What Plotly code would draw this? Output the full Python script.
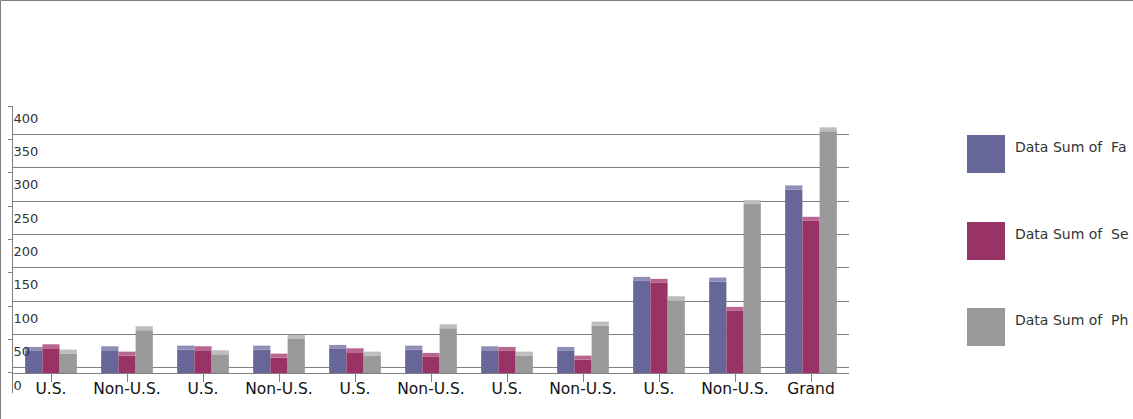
import plotly.graph_objects as go

# ---- data ----
categories = ["U.S.", "Non-U.S.", "U.S.", "Non-U.S.", "U.S.", "Non-U.S.",
              "U.S.", "Non-U.S.", "U.S.", "Non-U.S.", "Grand"]
series_names = ["Data Sum of  Fa", "Data Sum of  Se", "Data Sum of  Ph"]
fa_values = [33, 34, 35, 35, 36, 35, 34, 33, 138, 137, 275]
se_values = [37, 26, 34, 23, 31, 24, 33, 20, 135, 93, 228]
ph_values = [29, 64, 28, 51, 26, 67, 26, 71, 109, 253, 362]
y_ticks = [0, 50, 100, 150, 200, 250, 300, 350, 400]

# ---- style ----
colors = ["#666699", "#993366", "#999999"]
cap_colors = ["#8e8eb6", "#b8668f", "#bdbdbd"]
CAP = 6
W, H = 1133, 419
L, R, T, B = 13, 284, 106, 26
PW, PH = W - L - R, H - T - B
Y_MIN, Y_MAX = -30, 400
ZERO_FRAC = (0 - Y_MIN) / (Y_MAX - Y_MIN)
WALL_SHIFT = -7.5  # back-wall (3D) offset of gridlines, in value units

def px_x(p):
    return (p - L) / PW

def px_y(p):
    return (H - B - p) / PH

x = list(range(len(categories)))
series = [fa_values, se_values, ph_values]

fig = go.Figure()
for i, (name, vals) in enumerate(zip(series_names, series)):
    fig.add_trace(go.Bar(
        x=x, y=vals, name=name, offsetgroup=str(i),
        marker=dict(color=colors[i], line=dict(width=0)),
        showlegend=False, hoverinfo="y+name",
    ))
    fig.add_trace(go.Bar(
        x=x, y=[CAP] * len(vals), base=vals, offsetgroup=str(i),
        marker=dict(color=cap_colors[i], line=dict(width=0)),
        showlegend=False, hoverinfo="skip",
    ))

fig.update_layout(
    width=W, height=H,
    margin=dict(l=L, r=R, t=T, b=B, autoexpand=False),
    paper_bgcolor="white", plot_bgcolor="white",
    barmode="group", bargap=0.32, bargroupgap=0.0,
    font=dict(family="DejaVu Sans", color="#111111"),
    showlegend=False,
)
fig.update_xaxes(
    tickmode="array", tickvals=x, ticktext=categories,
    range=[-0.5, len(categories) - 0.5],
    anchor="free", position=ZERO_FRAC,
    showline=True, linecolor="#808080", linewidth=1,
    ticks="outside", ticklen=8, tickcolor="#808080",
    ticklabelstandoff=-7,
    tickfont=dict(family="DejaVu Sans", size=15.5, color="#111111"),
    showgrid=False, zeroline=False,
)
fig.update_layout(
    yaxis=dict(
        range=[Y_MIN, Y_MAX], tickmode="array", tickvals=y_ticks,
        ticktext=[str(v) for v in y_ticks],
        showgrid=False,
        showline=True, linecolor="#808080", linewidth=1,
        ticks="outside", ticklen=4, tickcolor="#808080",
        ticklabelposition="inside", ticklabelshift=12,
        tickfont=dict(family="DejaVu Sans", size=13, color="#333333"),
        zeroline=False,
    ),
    yaxis2=dict(
        overlaying="y", side="left", anchor="x",
        range=[Y_MIN + WALL_SHIFT, Y_MAX + WALL_SHIFT],
        tickmode="array", tickvals=y_ticks[:-1],
        showgrid=True, gridcolor="#808080", gridwidth=1,
        showticklabels=False, ticks="", showline=False, zeroline=False,
    ),
)
# invisible trace to activate the back-wall grid axis
fig.add_trace(go.Scatter(x=[x[0]], y=[0], yaxis="y2", mode="markers",
                         marker=dict(opacity=0), showlegend=False,
                         hoverinfo="skip"))

# outer frame
fig.add_shape(type="rect", xref="paper", yref="paper",
              x0=px_x(0.5), x1=px_x(W + 50), y0=px_y(H + 50), y1=px_y(0.5),
              line=dict(color="#808080", width=1), fillcolor="rgba(0,0,0,0)",
              layer="below")

# custom legend (large swatches)
leg_top = [135, 222, 308]
for i, name in enumerate(series_names):
    fig.add_shape(type="rect", xref="paper", yref="paper",
                  x0=px_x(967), x1=px_x(1005),
                  y0=px_y(leg_top[i] + 38), y1=px_y(leg_top[i]),
                  line=dict(width=0), fillcolor=colors[i])
    fig.add_annotation(xref="paper", yref="paper",
                       x=px_x(1013), y=px_y(leg_top[i] + 12),
                       xanchor="left", yanchor="middle", showarrow=False,
                       text=name,
                       font=dict(family="DejaVu Sans", size=14, color="#333333"))

fig.write_html(
    "out.html",
    config={"displayModeBar": False},
    post_script="document.body.style.margin='0';document.body.style.overflow='hidden';",
)
